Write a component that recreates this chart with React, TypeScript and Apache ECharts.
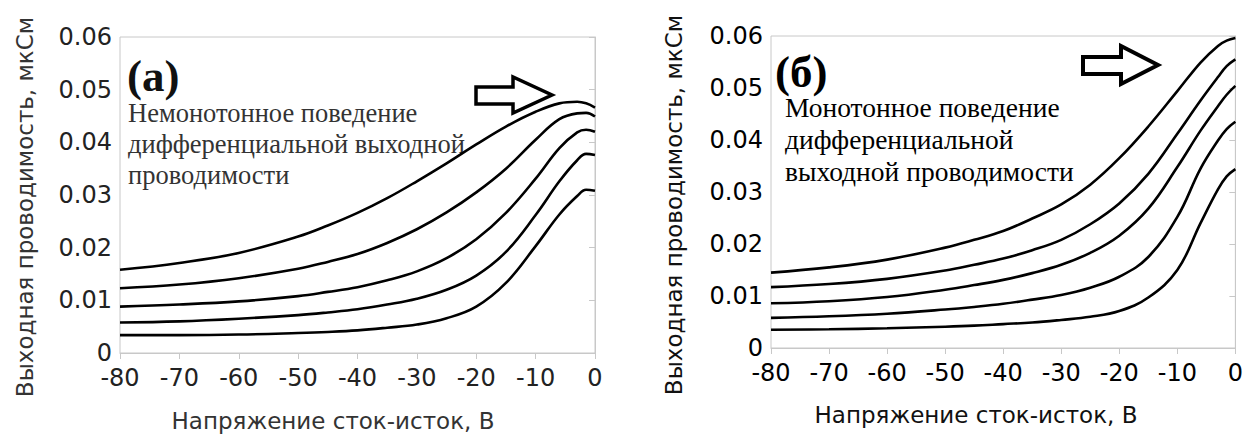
import React, { useEffect, useRef } from "react";
import * as echarts from "echarts";

// Drain–source voltage, V
const voltage = [-80, -70, -60, -50, -45, -40, -35, -30, -25, -20, -15, -10, -6, -3, -1.5, 0];

// Panel (а): non-monotonic output conductance, мкСм
const aCurve1 = [0.0158, 0.0171, 0.019, 0.0221, 0.0242, 0.0266, 0.0294, 0.0326, 0.036, 0.0396, 0.043, 0.0458, 0.0474, 0.0477, 0.0474, 0.0466];
const aCurve2 = [0.0123, 0.013, 0.0142, 0.016, 0.0173, 0.0188, 0.0209, 0.0235, 0.0267, 0.0305, 0.035, 0.0405, 0.0444, 0.0455, 0.0456, 0.0449];
const aCurve3 = [0.0088, 0.0092, 0.0098, 0.0108, 0.0116, 0.0125, 0.0138, 0.0155, 0.018, 0.0216, 0.0266, 0.0331, 0.0389, 0.0419, 0.0424, 0.042];
const aCurve4 = [0.0058, 0.006, 0.0065, 0.0072, 0.0077, 0.0083, 0.0092, 0.0103, 0.012, 0.0147, 0.0192, 0.0262, 0.0326, 0.0366, 0.0378, 0.0376];
const aCurve5 = [0.0034, 0.0034, 0.0035, 0.0038, 0.004, 0.0043, 0.0048, 0.0054, 0.0066, 0.0088, 0.0133, 0.0203, 0.0263, 0.0298, 0.031, 0.0308];

// Panel (б): monotonic output conductance, мкСм
const bCurve1 = [0.0145, 0.0155, 0.017, 0.0193, 0.0208, 0.0225, 0.0249, 0.0276, 0.0314, 0.0365, 0.0426, 0.0494, 0.0549, 0.0581, 0.0591, 0.0596];
const bCurve2 = [0.0117, 0.0123, 0.0133, 0.0149, 0.016, 0.0172, 0.0188, 0.0208, 0.0238, 0.0278, 0.0335, 0.0412, 0.0476, 0.0521, 0.0542, 0.0555];
const bCurve3 = [0.0086, 0.009, 0.0098, 0.0112, 0.0121, 0.0131, 0.0144, 0.016, 0.0183, 0.0216, 0.0268, 0.0348, 0.0418, 0.0465, 0.0487, 0.0504];
const bCurve4 = [0.0058, 0.0061, 0.0066, 0.0074, 0.0079, 0.0085, 0.0093, 0.0102, 0.0116, 0.0137, 0.0175, 0.0252, 0.0345, 0.0399, 0.0421, 0.0435];
const bCurve5 = [0.0035, 0.0036, 0.0038, 0.0041, 0.0043, 0.0046, 0.0049, 0.0054, 0.006, 0.0071, 0.0097, 0.015, 0.024, 0.0305, 0.033, 0.0344];

const aCurves = [aCurve1, aCurve2, aCurve3, aCurve4, aCurve5];
const bCurves = [bCurve1, bCurve2, bCurve3, bCurve4, bCurve5];

const yAxisName = "Выходная проводимость, мкСм";
const xAxisName = "Напряжение сток-исток, В";
const aLabel = "(а)";
const bLabel = "(б)";
const aNote = "Немонотонное поведение\nдифференциальной выходной\nпроводимости";
const bNote = "Монотонное поведение\nдифференциальной\nвыходной проводимости";

const SANS = '"DejaVu Sans", "Liberation Sans", sans-serif';
const SERIF = '"Liberation Serif", "DejaVu Serif", serif';

export default function App() {
  const ref = useRef<HTMLDivElement>(null);

  useEffect(() => {
    if (!ref.current) return;
    const chart = echarts.init(ref.current, undefined, { renderer: "svg" });

    const axisLineColor = "#c8c8c8";
    const xAxisCommon = (gridIndex: number, color: string, margin: number) => ({
      type: "value" as const,
      gridIndex,
      min: -80,
      max: 0,
      interval: 10,
      axisLine: { show: true, onZero: false, lineStyle: { color: axisLineColor, width: 1 } },
      axisTick: { show: true, length: 6, lineStyle: { color: axisLineColor } },
      splitLine: { show: false },
      axisLabel: { color, fontSize: 24, fontFamily: SANS, margin },
    });
    const yAxisCommon = (gridIndex: number, color: string) => ({
      type: "value" as const,
      gridIndex,
      min: 0,
      max: 0.06,
      interval: 0.01,
      axisLine: { show: true, lineStyle: { color: axisLineColor, width: 1 } },
      axisTick: { show: true, length: 6, lineStyle: { color: axisLineColor } },
      splitLine: { show: false },
      axisLabel: {
        color,
        fontSize: 24,
        fontFamily: SANS,
        margin: 8,
        formatter: (v: number) => (Math.abs(v) < 1e-9 ? "0" : v.toFixed(2)),
      },
    });

    const mkSeries = (curves: number[][], idx: number) =>
      curves.map((c, k) => ({
        type: "line" as const,
        name: `${idx === 0 ? "а" : "б"}${k + 1}`,
        xAxisIndex: idx,
        yAxisIndex: idx,
        data: voltage.map((v, i) => [v, c[i]]),
        smooth: 0.4,
        showSymbol: false,
        symbol: "none",
        lineStyle: { color: "#000", width: 2.6 },
        z: 3,
      }));

    const arrow = (pts: number[][], lw: number) => ({
      type: "polygon",
      shape: { points: pts },
      style: { fill: "#fff", stroke: "#000", lineWidth: lw, lineJoin: "miter" },
      z: 10,
    });

    chart.setOption({
      animation: false,
      backgroundColor: "#fff",
      grid: [
        { left: 120, top: 37, width: 475, height: 316, show: true, borderColor: axisLineColor, borderWidth: 1, backgroundColor: "transparent" },
        { left: 771, top: 36, width: 466, height: 312, show: true, borderColor: axisLineColor, borderWidth: 1, backgroundColor: "transparent" },
      ],
      xAxis: [xAxisCommon(0, "#222", 13), xAxisCommon(1, "#000", 13)],
      yAxis: [yAxisCommon(0, "#222"), yAxisCommon(1, "#000")],
      series: [...mkSeries(aCurves, 0), ...mkSeries(bCurves, 1)],
      graphic: [
        // axis names
        { type: "text", x: 25, y: 207, rotation: Math.PI / 2, style: { text: yAxisName, align: "center", verticalAlign: "middle", fontSize: 23, fontFamily: SANS, fill: "#333" } },
        { type: "text", x: 333, y: 421, style: { text: xAxisName, align: "center", verticalAlign: "middle", fontSize: 23, fontFamily: SANS, fill: "#333" } },
        { type: "text", x: 674, y: 205, rotation: Math.PI / 2, style: { text: yAxisName, align: "center", verticalAlign: "middle", fontSize: 23, fontFamily: SANS, fill: "#111" } },
        { type: "text", x: 976, y: 415, style: { text: xAxisName, align: "center", verticalAlign: "middle", fontSize: 23, fontFamily: SANS, fill: "#111" } },
        // panel labels
        { type: "text", x: 127, y: 76, style: { text: aLabel, align: "left", verticalAlign: "middle", fontSize: 45, fontWeight: "bold", fontFamily: SERIF, fill: "#111" } },
        { type: "text", x: 775, y: 72, style: { text: bLabel, align: "left", verticalAlign: "middle", fontSize: 45, fontWeight: "bold", fontFamily: SERIF, fill: "#000" } },
        // notes
        { type: "text", x: 128, y: 97, style: { text: aNote, align: "left", verticalAlign: "top", fontSize: 26.5, lineHeight: 31, fontFamily: SERIF, fill: "#333" } },
        { type: "text", x: 785, y: 91, style: { text: bNote, align: "left", verticalAlign: "top", fontSize: 27.5, lineHeight: 32, fontFamily: SERIF, fill: "#000" } },
        // arrows
        arrow([[476, 87], [513, 87], [513, 77], [552, 95], [513, 113], [513, 104], [476, 104]], 3.5),
        arrow([[1083, 57], [1121, 57], [1121, 46], [1158, 65], [1121, 84], [1121, 74], [1083, 74]], 4),
      ],
    });

    return () => chart.dispose();
  }, []);

  return (
    <div
      ref={ref}
      style={{ position: "absolute", left: 0, top: 0, width: 1246, height: 435 }}
    />
  );
}
